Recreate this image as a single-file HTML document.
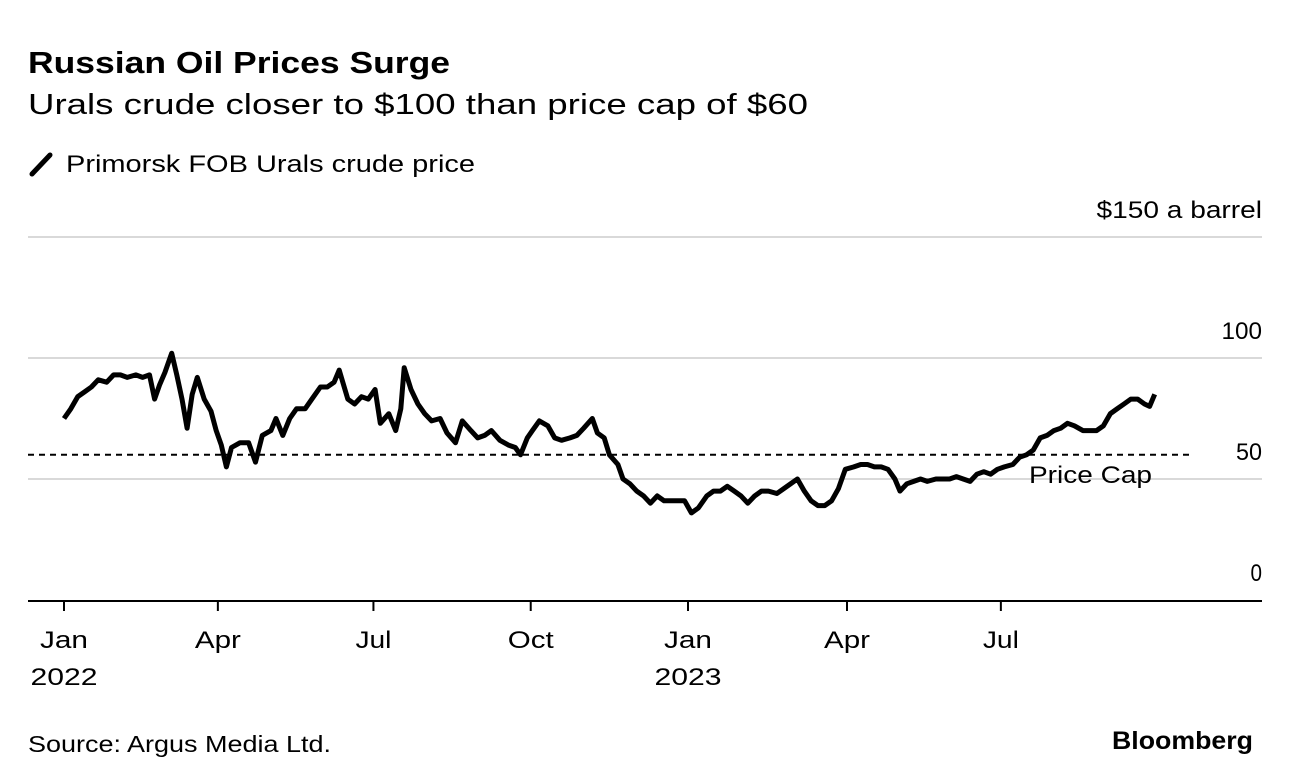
<!DOCTYPE html>
<html><head><meta charset="utf-8">
<style>
body{margin:0;background:#fff;width:1292px;height:784px;overflow:hidden;font-family:"Liberation Sans",sans-serif;color:#000}
svg{position:absolute;left:0;top:0}
</style></head>
<body>
<svg width="1292" height="784">
<text x="28" y="73" font-size="31" font-weight="bold" textLength="422" lengthAdjust="spacingAndGlyphs">Russian Oil Prices Surge</text>
<text x="28" y="114" font-size="29" textLength="780" lengthAdjust="spacingAndGlyphs">Urals crude closer to $100 than price cap of $60</text>
<line x1="32" y1="174" x2="50" y2="155" stroke="#000" stroke-width="5" stroke-linecap="round"/>
<text x="66" y="172" font-size="24" textLength="409" lengthAdjust="spacingAndGlyphs">Primorsk FOB Urals crude price</text>
<g id="grid"></g>
<g id="xaxis"></g>
<path id="series" fill="none" stroke="#000" stroke-width="5" stroke-linejoin="round"/>
<text x="28" y="752" font-size="23" textLength="303" lengthAdjust="spacingAndGlyphs">Source: Argus Media Ltd.</text>
<text x="1112" y="749" font-size="25" font-weight="bold" textLength="141" lengthAdjust="spacingAndGlyphs">Bloomberg</text>
</svg>
<script>
const yTicks=[0,50,100,150];
const yTickLabels=["0","50","100","$150 a barrel"];
const xTickDays=[0,90,181,273,365,458,548];
const xTickLabels=["Jan","Apr","Jul","Oct","Jan","Apr","Jul"];
const xYearLabels=["2022","","","","2023","",""];
const priceCap=60;
const days=[0,4,8,12,16,20,25,29,33,37,42,46,50,53,56,59,63,66,69,72,75,78,82,86,89,92,95,98,103,108,112,116,121,124,128,132,136,141,145,150,154,158,161,166,170,174,178,182,185,190,194,197,199,203,207,211,215,220,224,229,233,238,242,246,250,255,260,264,267,271,274,278,283,287,291,296,300,304,309,312,316,319,324,327,331,335,339,343,347,351,355,359,363,367,371,376,380,384,388,392,396,400,404,408,412,417,421,425,429,433,437,441,445,449,453,457,462,466,470,474,478,482,486,489,493,497,501,505,510,514,518,522,526,530,534,538,542,546,550,555,559,563,567,571,575,579,583,587,591,596,600,604,608,612,616,620,624,628,632,635,638];
const prices=[75,79,84,86,88,91,90,93,93,92,93,92,93,83,89,94,102,93,83,71,85,92,83,78,70,64,55,63,65,65,57,68,70,75,68,75,79,79,83,88,88,90,95,83,81,84,83,87,73,77,70,79,96,87,81,77,74,75,69,65,74,70,67,68,70,66,64,63,60,67,70,74,72,67,66,67,68,71,75,69,67,60,56,50,48,45,43,40,43,41,41,41,41,36,38,43,45,45,47,45,43,40,43,45,45,44,46,48,50,45,41,39,39,41,46,54,55,56,56,55,55,54,50,45,48,49,50,49,50,50,50,51,50,49,52,53,52,54,55,56,59,60,62,67,68,70,71,73,72,70,70,70,72,77,79,81,83,83,81,80,85];
const NS="http://www.w3.org/2000/svg";
const y=v=>600-v*2.42;
const x=d=>64+d*1.7096;
const fit=(el,w)=>{el.setAttribute('textLength',w);el.setAttribute('lengthAdjust','spacingAndGlyphs');};
const grid=document.getElementById('grid');
yTicks.forEach((t,i)=>{
  if(t>0){const l=document.createElementNS(NS,'line');
  l.setAttribute('x1',28);l.setAttribute('x2',1262);l.setAttribute('y1',y(t));l.setAttribute('y2',y(t));
  l.setAttribute('stroke','#d9d9d9');l.setAttribute('stroke-width',2);
  
  
  grid.appendChild(l);}
  const tx=document.createElementNS(NS,'text');
  tx.setAttribute('x',1262);tx.setAttribute('y',y(t)-19);tx.setAttribute('text-anchor','end');tx.setAttribute('font-size',24);
  tx.textContent=yTickLabels[i];
  fit(tx,yTickLabels[i].length*14.5-(yTickLabels[i].length>4?23:3));
  
  
  grid.appendChild(tx);
});
const cap=document.createElementNS(NS,'line');
cap.setAttribute('x1',28);cap.setAttribute('x2',1190);cap.setAttribute('y1',y(priceCap));cap.setAttribute('y2',y(priceCap));
cap.setAttribute('stroke','#000');cap.setAttribute('stroke-width',2);cap.setAttribute('stroke-dasharray','6,5');


grid.appendChild(cap);
const capT=document.createElementNS(NS,'text');
capT.setAttribute('x',1029);capT.setAttribute('y',y(priceCap)+28);capT.setAttribute('font-size',24);
capT.textContent='Price Cap';
fit(capT,123);


grid.appendChild(capT);
const xa=document.getElementById('xaxis');
const ax=document.createElementNS(NS,'line');
ax.setAttribute('x1',28);ax.setAttribute('x2',1262);ax.setAttribute('y1',601);ax.setAttribute('y2',601);
ax.setAttribute('stroke','#000');ax.setAttribute('stroke-width',2);


xa.appendChild(ax);
const monthW={Jan:48,Apr:46,Jul:36,Oct:46};
xTickDays.forEach((d,i)=>{
  const t=document.createElementNS(NS,'line');
  t.setAttribute('x1',x(d));t.setAttribute('x2',x(d));t.setAttribute('y1',601);t.setAttribute('y2',611);
  t.setAttribute('stroke','#000');t.setAttribute('stroke-width',2);
  
  
  xa.appendChild(t);
  const l=document.createElementNS(NS,'text');
  l.setAttribute('x',x(d));l.setAttribute('y',648);l.setAttribute('text-anchor','middle');l.setAttribute('font-size',24);
  l.textContent=xTickLabels[i];
  fit(l,monthW[xTickLabels[i]]||46);
  
  
  xa.appendChild(l);
  if(xYearLabels[i]){const yl=document.createElementNS(NS,'text');
  yl.setAttribute('x',x(d));yl.setAttribute('y',685);yl.setAttribute('text-anchor','middle');yl.setAttribute('font-size',24);
  yl.textContent=xYearLabels[i];
  fit(yl,67);
  
  
  xa.appendChild(yl);}
});
document.getElementById('series').setAttribute('d',days.map((d,i)=>(i?'L':'M')+x(d).toFixed(1)+','+y(prices[i]).toFixed(1)).join(''));
</script>
</body></html>
